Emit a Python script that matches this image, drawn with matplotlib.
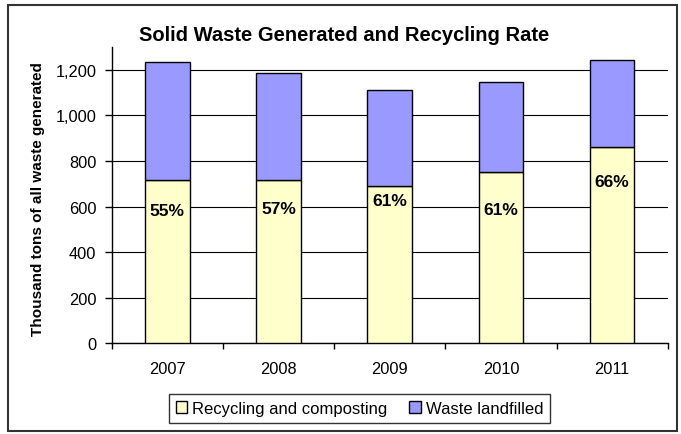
import matplotlib
matplotlib.use("Agg")
import matplotlib.pyplot as plt
from matplotlib.patches import Rectangle
from matplotlib.ticker import FuncFormatter

plt.rcParams['font.family'] = ['Liberation Sans', 'DejaVu Sans']

years = ["2007", "2008", "2009", "2010", "2011"]
recycled = [718, 718, 688, 752, 861]
total = [1235, 1187, 1110, 1147, 1245]
landfilled = [t - r for t, r in zip(total, recycled)]
rate_labels = ["55%", "57%", "61%", "61%", "66%"]
yticks = [0, 200, 400, 600, 800, 1000, 1200]

# label drop below the recycling top (points)
label_drop = [22, 21, 10, 27, 25]

W, H = 681, 435
fig = plt.figure(figsize=(W / 100, H / 100), dpi=100)
ax = fig.add_axes([111.7 / W, 1 - 344.3 / H, (667.7 - 111.7) / W, (344.3 - 48) / H])

x = list(range(len(years)))
ax.bar(x, recycled, width=0.4, color="#FFFFCC", edgecolor="black", linewidth=1.0,
       label="Recycling and composting", zorder=3)
ax.bar(x, landfilled, width=0.4, bottom=recycled, color="#9999FF", edgecolor="black",
       linewidth=1.0, label="Waste landfilled", zorder=3)

for xi, r, lab, d in zip(x, recycled, rate_labels, label_drop):
    ax.annotate(lab, (xi, r), xytext=(0, -d), textcoords="offset points",
                ha="center", va="center", fontsize=12.5, fontweight="bold", zorder=4)

ax.set_xlim(-0.5, len(years) - 0.5)
ax.set_ylim(0, 1300)
ax.set_yticks(yticks)
ax.yaxis.set_major_formatter(FuncFormatter(lambda v, p: f"{int(v):,}"))
ax.set_xticks(x)
ax.set_xticklabels(years)
ax.set_xticks([i - 0.5 for i in range(len(years) + 1)], minor=True)
ax.tick_params(axis="x", which="major", length=0, pad=13, labelsize=11.8)
ax.tick_params(axis="x", which="minor", length=4, width=1, direction="out")
ax.tick_params(axis="y", length=5, width=1, pad=6, labelsize=11.8)
ax.yaxis.grid(True, color="black", linewidth=0.8, zorder=0)
ax.set_axisbelow(True)
for s in ["top", "right"]:
    ax.spines[s].set_visible(False)
for s in ["left", "bottom"]:
    ax.spines[s].set_linewidth(1.0)

ax.set_ylabel("Thousand tons of all waste generated", fontsize=11, fontweight="bold")
ax.yaxis.set_label_coords((45 - 111.7) / (667.7 - 111.7), 0.49)

fig.text(344 / W, 1 - 36 / H, "Solid Waste Generated and Recycling Rate",
         ha="center", va="center", fontsize=14.5, fontweight="bold")

leg = fig.legend(loc="center", bbox_to_anchor=(359.5 / W, 1 - 409.5 / H), ncol=2,
                 fontsize=12, frameon=True, fancybox=False, handlelength=0.7,
                 handleheight=0.7, handletextpad=0.3, columnspacing=1.3,
                 borderpad=0.4, edgecolor="black")
leg.get_frame().set_linewidth(1.0)

fig.patches.append(Rectangle((8 / W, 1 - 432 / H), (677 - 8) / W, (432 - 6) / H,
                             transform=fig.transFigure, fill=False,
                             edgecolor="#333333", linewidth=1.5))

fig.savefig("out.png", dpi=100)
